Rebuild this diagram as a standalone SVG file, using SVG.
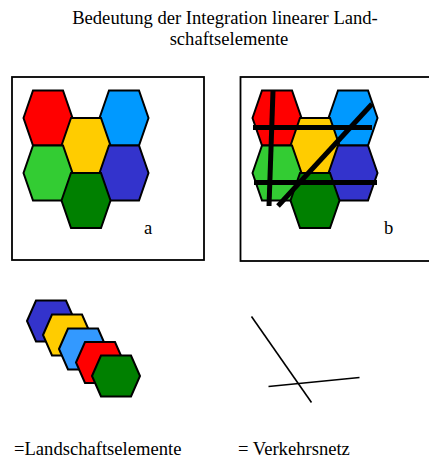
<svg xmlns="http://www.w3.org/2000/svg" xmlns:xlink="http://www.w3.org/1999/xlink" width="429" height="460" viewBox="0 0 429 460">
<style>
text{font-family:"Liberation Serif","Times New Roman",serif;font-size:18.6px;fill:#000}
.hex{stroke:#000;stroke-width:2;stroke-linejoin:miter}
.box{fill:#fff;stroke:#000;stroke-width:1.8}
.road{stroke:#000;stroke-width:5;fill:none}
.thin{stroke:#000;stroke-width:1.6;fill:none}
</style>
<defs>
<path id="hb" d="M-24.5,0 L-15,-27.5 L15,-27.5 L24.5,0 L15,27.5 L-15,27.5 Z"/>
<path id="hs" d="M-24,0 L-15,-20.5 L15,-20.5 L24,0 L15,20.5 L-15,20.5 Z"/>
</defs>
<rect width="429" height="460" fill="#fff"/>
<g id="title">
<text x="225" y="24" text-anchor="middle">Bedeutung der Integration linearer Land-</text>
<text x="229" y="45" text-anchor="middle">schaftselemente</text>
</g>
<g id="panel-a">
<rect class="box" x="12" y="77" width="192" height="183"/>
<use href="#hb" class="hex" fill="#FF0000" transform="translate(48,118)"/>
<use href="#hb" class="hex" fill="#0099FF" transform="translate(124,118)"/>
<use href="#hb" class="hex" fill="#FFCC00" transform="translate(86,145.5)"/>
<use href="#hb" class="hex" fill="#33CC33" transform="translate(48,173)"/>
<use href="#hb" class="hex" fill="#3333CC" transform="translate(124,173)"/>
<use href="#hb" class="hex" fill="#008000" transform="translate(86,200.5)"/>
<text x="144" y="234">a</text>
</g>
<g id="panel-b">
<rect class="box" x="240.5" y="77" width="192" height="184"/>
<use href="#hb" class="hex" fill="#FF0000" transform="translate(277,118)"/>
<use href="#hb" class="hex" fill="#0099FF" transform="translate(353,118)"/>
<use href="#hb" class="hex" fill="#FFCC00" transform="translate(315,145.5)"/>
<use href="#hb" class="hex" fill="#33CC33" transform="translate(277,173)"/>
<use href="#hb" class="hex" fill="#3333CC" transform="translate(353,173)"/>
<use href="#hb" class="hex" fill="#008000" transform="translate(315,200.5)"/>
<g id="roads">
<line class="road" x1="273" y1="91" x2="269" y2="206"/>
<line class="road" x1="253" y1="127.5" x2="372" y2="127.5"/>
<line class="road" x1="254" y1="182.5" x2="377" y2="182.5"/>
<line class="road" x1="278" y1="206" x2="372" y2="104"/>
</g>
<text x="384" y="234">b</text>
</g>
<g id="legend-elements">
<use href="#hs" class="hex" fill="#3333CC" transform="translate(51,321)"/>
<use href="#hs" class="hex" fill="#FFCC00" transform="translate(67,335)"/>
<use href="#hs" class="hex" fill="#3399FF" transform="translate(83,349)"/>
<use href="#hs" class="hex" fill="#FF0000" transform="translate(100,362.5)"/>
<use href="#hs" class="hex" fill="#008000" transform="translate(116,376)"/>
<text x="14" y="455">=Landschaftselemente</text>
</g>
<g id="legend-network">
<line class="thin" x1="251.5" y1="316.5" x2="311.5" y2="402.5"/>
<line class="thin" x1="268.5" y1="386.5" x2="359.5" y2="377.5"/>
<text x="238" y="455">= Verkehrsnetz</text>
</g>
</svg>
